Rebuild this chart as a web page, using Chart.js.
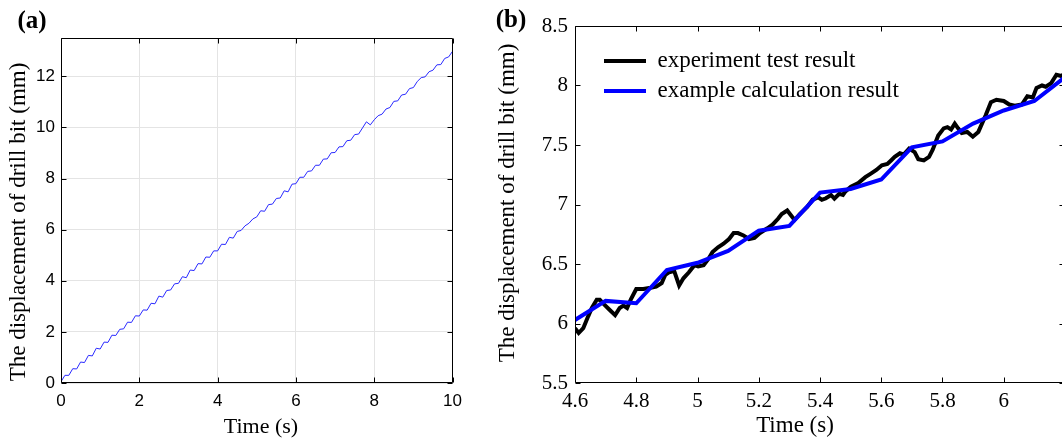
<!DOCTYPE html>
<html>
<head>
<meta charset="utf-8">
<script src="https://cdn.jsdelivr.net/npm/chart.js@4.4.1/dist/chart.umd.min.js"></script>
<style>
html,body{margin:0;padding:0;background:#fff;width:1062px;height:440px;overflow:hidden;}
#wrap{position:relative;width:1062px;height:440px;overflow:hidden;background:#fff;}
#ca{position:absolute;left:0;top:0;}
#cb{position:absolute;left:490px;top:0;}
</style>
</head>
<body>
<div id="wrap">
<canvas id="ca" width="470" height="440"></canvas>
<canvas id="cb" width="620" height="440"></canvas>
</div>
<script>
// ---------- Panel (a) data ----------
const timeA = [0,0.1,0.2,0.3,0.4,0.5,0.6,0.7,0.8,0.9,
  1,1.1,1.2,1.3,1.4,1.5,1.6,1.7,1.8,1.9,
  2,2.1,2.2,2.3,2.4,2.5,2.6,2.7,2.8,2.9,
  3,3.1,3.2,3.3,3.4,3.5,3.6,3.7,3.8,3.9,
  4,4.1,4.2,4.3,4.4,4.5,4.6,4.7,4.8,4.9,
  5,5.1,5.2,5.3,5.4,5.5,5.6,5.7,5.8,5.9,
  6,6.1,6.2,6.3,6.4,6.5,6.6,6.7,6.8,6.9,
  7,7.1,7.2,7.3,7.4,7.5,7.6,7.7,7.8,7.9,
  8,8.1,8.2,8.3,8.4,8.5,8.6,8.7,8.8,8.9,
  9,9.1,9.2,9.3,9.4,9.5,9.6,9.7,9.8,9.9,
  10];
const dispA = [0.05,0.30,0.30,0.56,0.55,0.82,0.80,1.08,1.06,1.36,
  1.33,1.60,1.59,1.87,1.86,2.10,2.12,2.38,2.37,2.63,
  2.62,2.86,2.85,3.12,3.10,3.40,3.36,3.62,3.64,3.88,
  3.90,4.16,4.12,4.42,4.40,4.67,4.66,4.93,4.92,5.17,
  5.17,5.43,5.42,5.70,5.67,5.93,5.97,6.15,6.25,6.42,
  6.50,6.74,6.72,6.98,7.00,7.22,7.24,7.52,7.48,7.78,
  7.80,8.05,8.05,8.28,8.30,8.52,8.52,8.76,8.77,9.01,
  9.02,9.24,9.25,9.48,9.50,9.72,9.74,9.98,10.22,10.10,
  10.30,10.46,10.52,10.72,10.78,11.02,11.04,11.27,11.30,11.52,
  11.56,11.80,11.95,11.98,12.18,12.24,12.45,12.46,12.70,12.76,
  12.98];
const xTicksA = [0,2,4,6,8,10];
const yTicksA = [0,2,4,6,8,10,12];

// ---------- Panel (b) data ----------
const timeExp = [4.600,4.612,4.627,4.643,4.655,4.671,4.681,4.695,4.711,4.731,
  4.746,4.758,4.770,4.782,4.800,4.823,4.847,4.865,4.883,4.895,
  4.907,4.924,4.940,4.954,4.972,4.990,5.002,5.020,5.035,5.049,
  5.067,5.085,5.103,5.118,5.132,5.150,5.168,5.186,5.204,5.228,
  5.245,5.263,5.275,5.293,5.305,5.317,5.334,5.358,5.376,5.394,
  5.406,5.418,5.436,5.447,5.463,5.475,5.483,5.501,5.525,5.548,
  5.566,5.584,5.602,5.620,5.632,5.644,5.661,5.673,5.691,5.709,
  5.721,5.739,5.756,5.768,5.786,5.804,5.816,5.828,5.840,5.851,
  5.863,5.881,5.899,5.917,5.941,5.958,5.976,6.000,6.018,6.036,
  6.059,6.077,6.095,6.107,6.125,6.137,6.155,6.172,6.188,6.200];
const dispExp = [5.96,5.92,5.96,6.06,6.13,6.20,6.20,6.16,6.12,6.07,
  6.13,6.15,6.13,6.20,6.29,6.29,6.30,6.31,6.34,6.41,
  6.43,6.44,6.32,6.38,6.43,6.49,6.48,6.49,6.54,6.60,
  6.64,6.67,6.71,6.76,6.76,6.74,6.71,6.72,6.76,6.80,
  6.83,6.88,6.92,6.95,6.91,6.87,6.92,6.98,7.04,7.06,
  7.04,7.05,7.08,7.05,7.09,7.08,7.11,7.15,7.18,7.23,
  7.26,7.29,7.33,7.34,7.37,7.40,7.43,7.42,7.47,7.44,
  7.38,7.37,7.40,7.46,7.58,7.64,7.65,7.63,7.68,7.64,
  7.60,7.61,7.57,7.61,7.75,7.86,7.88,7.87,7.84,7.83,
  7.84,7.91,7.90,7.98,8.00,7.99,8.02,8.09,8.08,8.10];
const timeCalc = [4.6,4.7,4.8,4.9,5.0,5.1,5.2,5.3,5.4,5.5,5.6,5.7,5.8,5.9,6.0,6.1,6.2];
const dispCalc = [6.03,6.19,6.17,6.45,6.51,6.61,6.78,6.82,7.10,7.13,7.21,7.48,7.53,7.68,7.79,7.87,8.07];
const xTicksB = [4.6,4.8,5,5.2,5.4,5.6,5.8,6];
const yTicksB = [5.5,6,6.5,7,7.5,8,8.5];

const SERIF = "'Liberation Serif','Times New Roman',serif";
const SANS = "'Liberation Sans',Arial,sans-serif";

// Draws the box frame and inward tick marks on all four sides
const framePlugin = {
  id: 'frame',
  afterDraw(chart, args, opts) {
    const {ctx, chartArea: a, scales} = chart;
    const xs = scales.x, ys = scales.y;
    const len = opts.len || 5;
    const L = Math.round(a.left) + 0.5, R = Math.round(a.right) - 0.5;
    const T = Math.round(a.top) + 0.5, B = Math.round(a.bottom) - 0.5;
    ctx.save();
    ctx.strokeStyle = '#000';
    ctx.lineWidth = 1;
    ctx.beginPath();
    ctx.rect(L, T, R - L, B - T);
    xs.ticks.forEach(t => {
      const px = Math.round(xs.getPixelForValue(t.value)) + 0.5;
      ctx.moveTo(px, B); ctx.lineTo(px, B - len);
      ctx.moveTo(px, T); ctx.lineTo(px, T + len);
    });
    ys.ticks.forEach(t => {
      const py = Math.round(ys.getPixelForValue(t.value)) + 0.5;
      ctx.moveTo(L, py); ctx.lineTo(L + len, py);
      ctx.moveTo(R, py); ctx.lineTo(R - len, py);
    });
    ctx.stroke();
    ctx.restore();
  }
};

// Panel labels and axis titles
const textPlugin = {
  id: 'texts',
  afterDraw(chart, args, opts) {
    const ctx = chart.ctx;
    (opts.items || []).forEach(it => {
      ctx.save();
      ctx.font = it.font;
      ctx.fillStyle = '#000';
      ctx.textAlign = 'center';
      ctx.textBaseline = 'middle';
      ctx.translate(it.x, it.y);
      if (it.rot) ctx.rotate(it.rot);
      ctx.fillText(it.text, 0, 0);
      ctx.restore();
    });
  }
};

// Moves the in-plot legend to its place
const legendShift = {
  id: 'legendShift',
  afterLayout(chart, args, opts) {
    if (chart.legend && opts && opts.dx !== undefined) {
      chart.legend.left += opts.dx;
      chart.legend.top += opts.dy;
    }
  }
};

const fmt = v => String(Math.round(v * 10) / 10);

// ---------- Chart (a) ----------
new Chart(document.getElementById('ca'), {
  type: 'line',
  data: {
    datasets: [{
      label: 'displacement',
      data: timeA.map((t, i) => ({x: t, y: dispA[i]})),
      borderColor: '#2a2aff',
      borderWidth: 1,
      pointRadius: 0,
      tension: 0,
      fill: false
    }]
  },
  options: {
    responsive: false,
    animation: false,
    devicePixelRatio: 1,
    events: [],
    layout: {padding: {top: 38, right: 14, left: 0, bottom: 0}},
    plugins: {
      legend: {display: false},
      tooltip: {enabled: false},
      frame: {len: 5},
      texts: {items: [
        {text: '(a)', x: 32, y: 22, font: 'bold 25px ' + SERIF},
        {text: 'Time (s)', x: 261, y: 427, font: '22px ' + SERIF},
        {text: 'The displacement of drill bit (mm)', x: 19, y: 222, rot: -Math.PI / 2, font: '23px ' + SERIF}
      ]}
    },
    scales: {
      x: {
        type: 'linear', min: 0, max: 10,
        afterBuildTicks: s => { s.ticks = xTicksA.map(v => ({value: v})); },
        afterFit: s => { s.height = 57; },
        grid: {color: '#e4e4e4', drawTicks: false},
        border: {display: false},
        ticks: {padding: 8, color: '#000', autoSkip: false, maxRotation: 0,
          font: {family: SANS, size: 17}, callback: fmt}
      },
      y: {
        type: 'linear', min: 0, max: 13.5,
        afterBuildTicks: s => { s.ticks = yTicksA.map(v => ({value: v})); },
        afterFit: s => { s.width = 61; },
        grid: {color: '#e4e4e4', drawTicks: false},
        border: {display: false},
        ticks: {padding: 6, color: '#000', autoSkip: false,
          font: {family: SANS, size: 17}, callback: fmt}
      }
    }
  },
  plugins: [framePlugin, textPlugin]
});

// ---------- Chart (b) ----------
new Chart(document.getElementById('cb'), {
  type: 'line',
  data: {
    datasets: [
      {
        label: 'experiment test result',
        data: timeExp.map((t, i) => ({x: t, y: dispExp[i]})),
        borderColor: '#000000',
        backgroundColor: '#000000',
        borderWidth: 4,
        pointRadius: 0,
        tension: 0,
        fill: false,
        order: 1
      },
      {
        label: 'example calculation result',
        data: timeCalc.map((t, i) => ({x: t, y: dispCalc[i]})),
        borderColor: '#0000ff',
        backgroundColor: '#0000ff',
        borderWidth: 4,
        pointRadius: 0,
        tension: 0,
        fill: false,
        order: 0
      }
    ]
  },
  options: {
    responsive: false,
    animation: false,
    devicePixelRatio: 1,
    events: [],
    layout: {padding: {top: 26, right: 45, left: 0, bottom: 0}},
    plugins: {
      legend: {
        display: true,
        position: 'chartArea',
        align: 'start',
        labels: {
          usePointStyle: true,
          pointStyle: 'line',
          pointStyleWidth: 42,
          boxHeight: 23,
          padding: 7,
          color: '#000',
          font: {family: SERIF, size: 23},
          sort: (a, b) => a.datasetIndex - b.datasetIndex
        }
      },
      legendShift: {dx: 22, dy: 42.5},
      tooltip: {enabled: false},
      frame: {len: 5},
      texts: {items: [
        {text: '(b)', x: 21, y: 21, font: 'bold 25px ' + SERIF},
        {text: 'Time (s)', x: 305, y: 426, font: '23px ' + SERIF},
        {text: 'The displacement of drill bit (mm)', x: 18, y: 203, rot: -Math.PI / 2, font: '23px ' + SERIF}
      ]}
    },
    scales: {
      x: {
        type: 'linear', min: 4.6, max: 6.2,
        afterBuildTicks: s => { s.ticks = xTicksB.map(v => ({value: v})); },
        afterFit: s => { s.height = 57; },
        grid: {display: false, drawTicks: false},
        border: {display: false},
        ticks: {padding: 6, color: '#000', autoSkip: false, maxRotation: 0,
          font: {family: SERIF, size: 21}, callback: fmt}
      },
      y: {
        type: 'linear', min: 5.5, max: 8.5,
        afterBuildTicks: s => { s.ticks = yTicksB.map(v => ({value: v})); },
        afterFit: s => { s.width = 85; },
        grid: {display: false, drawTicks: false},
        border: {display: false},
        ticks: {padding: 7, color: '#000', autoSkip: false,
          font: {family: SERIF, size: 21}, callback: fmt}
      }
    }
  },
  plugins: [framePlugin, textPlugin, legendShift]
});
</script>
</body>
</html>
